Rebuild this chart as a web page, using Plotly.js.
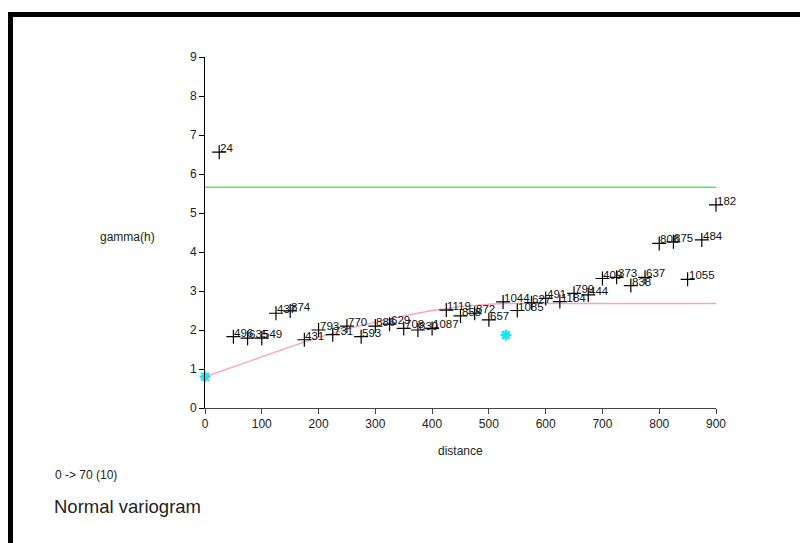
<!DOCTYPE html>
<html>
<head>
<meta charset="utf-8">
<script src="https://cdn.plot.ly/plotly-3.0.1.min.js"></script>
<style>
  html, body { margin: 0; padding: 0; background: #ffffff; }
  #chart { position: absolute; left: 0; top: 0; width: 800px; height: 543px; }
  #frame { position: absolute; left: 8px; top: 12px; width: 792px; height: 531px;
           border-top: 5px solid #000; border-left: 5px solid #000; box-sizing: border-box;
           pointer-events: none; }
</style>
</head>
<body>
<div id="chart"></div>
<div id="frame"></div>
<script>
// Experimental variogram: lag distance, gamma(h), number of pairs
const lagDistance = [25, 50, 75, 100, 125, 150, 175, 200, 225, 250, 275, 300,
                     325, 350, 375, 400, 425, 450, 475, 500, 525, 550, 575, 600,
                     625, 650, 675, 700, 725, 750, 775, 800, 825, 850, 875, 900];
const gammaValues = [6.56, 1.83, 1.79, 1.79, 2.43, 2.49, 1.75, 2.00, 1.88, 2.10, 1.83, 2.10,
                     2.15, 2.04, 2.00, 2.04, 2.51, 2.36, 2.43, 2.26, 2.72, 2.50, 2.70, 2.81,
                     2.73, 2.94, 2.90, 3.32, 3.35, 3.14, 3.35, 4.22, 4.26, 3.30, 4.31, 5.21];
const pairCounts = ["24", "496", "635", "549", "437", "874", "431", "793", "731", "770", "593", "886",
                    "629", "708", "830", "1087", "1119", "858", "872", "657", "1044", "1085", "627", "491",
                    "1184", "799", "444", "409", "373", "838", "637", "806", "875", "1055", "484", "182"];

// Fitted model curve
const modelDistance = [0, 50, 100, 150, 200, 250, 300, 350, 400, 450, 500, 530, 900];
const modelGamma    = [0.80, 1.06, 1.32, 1.57, 1.81, 2.02, 2.20, 2.36, 2.50, 2.60, 2.66, 2.68, 2.68];

// Sample variance line
const sillDistance = [0, 900];
const sillGamma = [5.66, 5.66];

// Model key points (nugget, range)
const keyDistance = [0, 530];
const keyGamma = [0.80, 1.87];

const xTicks = [0, 100, 200, 300, 400, 500, 600, 700, 800, 900];
const yTicks = [0, 1, 2, 3, 4, 5, 6, 7, 8, 9];

const fontFamily = '"Liberation Sans", Arial, sans-serif';

const traces = [
  {
    x: sillDistance, y: sillGamma, mode: 'lines', type: 'scatter',
    line: { color: '#4cf24c', width: 1.5 }, hoverinfo: 'skip', cliponaxis: false
  },
  {
    x: modelDistance, y: modelGamma, mode: 'lines', type: 'scatter',
    line: { color: '#ff9fc6', width: 1.3 }, hoverinfo: 'skip', cliponaxis: false
  },
  {
    x: lagDistance, y: gammaValues, mode: 'markers', type: 'scatter',
    marker: { symbol: 'cross-thin-open', size: 10, color: '#000', line: { color: '#000', width: 1.2 } },
    cliponaxis: false
  },
  {
    x: keyDistance, y: keyGamma, mode: 'markers', type: 'scatter',
    marker: { symbol: 'asterisk-open', size: 9, color: '#1fe3f0', line: { color: '#1fe3f0', width: 2.5 } },
    cliponaxis: false
  }
];

const annotations = lagDistance.map((d, i) => ({
  x: d, y: gammaValues[i], xref: 'x', yref: 'y', text: pairCounts[i],
  showarrow: false, xanchor: 'left', yanchor: 'middle', xshift: -1, yshift: 4,
  font: { family: fontFamily, size: 11.5, color: '#111' }
}));

annotations.push(
  { x: -0.151, y: 0.487, xref: 'paper', yref: 'paper', text: 'gamma(h)', showarrow: false,
    xanchor: 'center', yanchor: 'middle', font: { family: fontFamily, size: 12, color: '#222' } },
  { x: 0.5, y: -0.1225, xref: 'paper', yref: 'paper', text: 'distance', showarrow: false,
    xanchor: 'center', yanchor: 'middle', font: { family: fontFamily, size: 12, color: '#222' } },
  { x: -0.297, y: -0.191, xref: 'paper', yref: 'paper', text: '0 -> 70 (10)', showarrow: false,
    xanchor: 'left', yanchor: 'middle', font: { family: fontFamily, size: 12, color: '#222' } }
);

const layout = {
  width: 800, height: 543,
  margin: { l: 205, r: 84, t: 57, b: 135 },
  paper_bgcolor: 'rgba(0,0,0,0)', plot_bgcolor: 'rgba(0,0,0,0)',
  showlegend: false,
  title: {
    text: 'Normal variogram', x: 54 / 800, xanchor: 'left', xref: 'container',
    y: 1 - 507 / 543, yanchor: 'middle', yref: 'container',
    font: { family: fontFamily, size: 18.5, color: '#222' }
  },
  xaxis: {
    range: [0, 900], tickvals: xTicks, ticktext: xTicks.map(String),
    showgrid: false, zeroline: false, showline: true, linecolor: '#444', linewidth: 1,
    ticks: 'outside', ticklen: 5, tickcolor: '#444', tickwidth: 1,
    tickfont: { family: fontFamily, size: 12, color: '#222' }, fixedrange: true
  },
  yaxis: {
    range: [0, 9], tickvals: yTicks, ticktext: yTicks.map(String),
    showgrid: false, zeroline: false, showline: true, linecolor: '#000', linewidth: 1,
    ticks: 'outside', ticklen: 5, tickcolor: '#000', tickwidth: 1,
    tickfont: { family: fontFamily, size: 12, color: '#222' }, fixedrange: true
  },
  annotations: annotations
};

Plotly.newPlot('chart', traces, layout, { displayModeBar: false, staticPlot: true });
</script>
</body>
</html>
